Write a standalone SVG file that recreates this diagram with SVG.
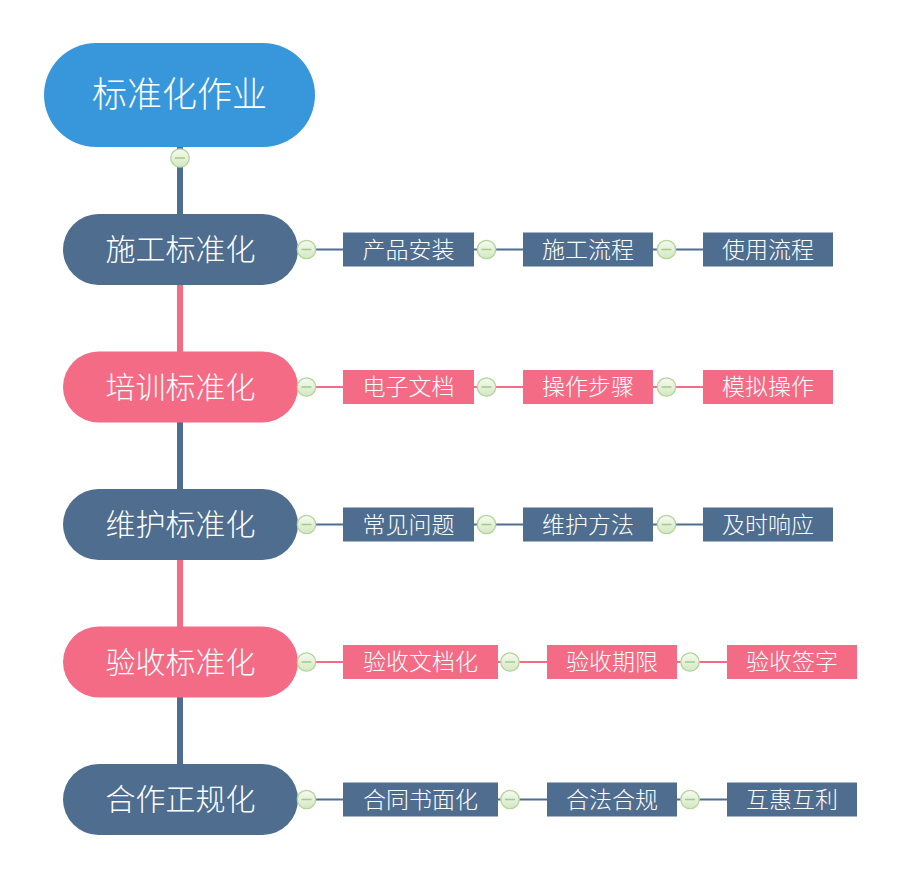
<svg xmlns="http://www.w3.org/2000/svg" width="900" height="878" viewBox="0 0 900 878">
<defs>
<linearGradient id="cg" x1="0" y1="0" x2="0" y2="1">
<stop offset="0" stop-color="#f6faf2"/>
<stop offset="1" stop-color="#d3e8c2"/>
</linearGradient>
<g id="col">
<circle r="9.2" fill="url(#cg)" stroke="#b3d698" stroke-width="1.3"/>
<line x1="-5" y1="0" x2="5" y2="0" stroke="#a3c988" stroke-width="1.5"/>
</g>
</defs>
<style>
.t{fill:#ffffff;font-family:"Noto Sans CJK SC","Noto Sans",sans-serif;text-anchor:middle;font-weight:300}
.t0{font-size:35px}
.t1{font-size:30px}
.t2{font-size:23px}
.blue{fill:#4e6d8f}
.pink{fill:#f36b85}
.lb{stroke:#4e6d8f}
.lp{stroke:#f36b85}
.v{stroke-width:6;fill:none}
.h{stroke-width:2;fill:none}
</style>
<rect width="900" height="878" fill="#ffffff"/>
<g id="connectors">
<line class="v lb" x1="180" y1="145" x2="180" y2="216"/>
<line class="v lp" x1="180" y1="283" x2="180" y2="354"/>
<line class="v lb" x1="180" y1="420" x2="180" y2="491"/>
<line class="v lp" x1="180" y1="558" x2="180" y2="629"/>
<line class="v lb" x1="180" y1="695" x2="180" y2="766"/>
<line class="h lb" x1="298" y1="249.5" x2="343" y2="249.5"/>
<line class="h lb" x1="474" y1="249.5" x2="523" y2="249.5"/>
<line class="h lb" x1="653" y1="249.5" x2="703" y2="249.5"/>
<line class="h lp" x1="298" y1="387" x2="343" y2="387"/>
<line class="h lp" x1="474" y1="387" x2="523" y2="387"/>
<line class="h lp" x1="653" y1="387" x2="703" y2="387"/>
<line class="h lb" x1="298" y1="524.5" x2="343" y2="524.5"/>
<line class="h lb" x1="474" y1="524.5" x2="523" y2="524.5"/>
<line class="h lb" x1="653" y1="524.5" x2="703" y2="524.5"/>
<line class="h lp" x1="298" y1="662" x2="343" y2="662"/>
<line class="h lp" x1="498" y1="662" x2="547" y2="662"/>
<line class="h lp" x1="677" y1="662" x2="727" y2="662"/>
<line class="h lb" x1="298" y1="799.5" x2="343" y2="799.5"/>
<line class="h lb" x1="498" y1="799.5" x2="547" y2="799.5"/>
<line class="h lb" x1="677" y1="799.5" x2="727" y2="799.5"/>
</g>
<g id="root">
<rect x="44" y="43" width="271" height="104" rx="52" fill="#3797da"/>
<text class="t t0" x="179.5" y="107">标准化作业</text>
<use href="#col" x="180" y="158"/>
</g>
<g id="n1">
<rect class="blue" x="63" y="214" width="235" height="71" rx="35.5"/>
<text class="t t1" x="180.5" y="260">施工标准化</text>
<use href="#col" x="306.5" y="249.5"/>
</g>
<g id="n1a"><rect class="blue" x="343" y="232.5" width="131" height="34"/><text class="t t2" x="408.5" y="257.5">产品安装</text><use href="#col" x="486.5" y="249.5"/></g>
<g id="n1b"><rect class="blue" x="523" y="232.5" width="130" height="34"/><text class="t t2" x="588" y="257.5">施工流程</text><use href="#col" x="666.5" y="249.5"/></g>
<g id="n1c"><rect class="blue" x="703" y="232.5" width="130" height="34"/><text class="t t2" x="768" y="257.5">使用流程</text></g>
<g id="n2">
<rect class="pink" x="63" y="351.5" width="235" height="71" rx="35.5"/>
<text class="t t1" x="180.5" y="397.5">培训标准化</text>
<use href="#col" x="306.5" y="387"/>
</g>
<g id="n2a"><rect class="pink" x="343" y="370" width="131" height="34"/><text class="t t2" x="408.5" y="395">电子文档</text><use href="#col" x="486.5" y="387"/></g>
<g id="n2b"><rect class="pink" x="523" y="370" width="130" height="34"/><text class="t t2" x="588" y="395">操作步骤</text><use href="#col" x="666.5" y="387"/></g>
<g id="n2c"><rect class="pink" x="703" y="370" width="130" height="34"/><text class="t t2" x="768" y="395">模拟操作</text></g>
<g id="n3">
<rect class="blue" x="63" y="489" width="235" height="71" rx="35.5"/>
<text class="t t1" x="180.5" y="535">维护标准化</text>
<use href="#col" x="306.5" y="524.5"/>
</g>
<g id="n3a"><rect class="blue" x="343" y="507.5" width="131" height="34"/><text class="t t2" x="408.5" y="532.5">常见问题</text><use href="#col" x="486.5" y="524.5"/></g>
<g id="n3b"><rect class="blue" x="523" y="507.5" width="130" height="34"/><text class="t t2" x="588" y="532.5">维护方法</text><use href="#col" x="666.5" y="524.5"/></g>
<g id="n3c"><rect class="blue" x="703" y="507.5" width="130" height="34"/><text class="t t2" x="768" y="532.5">及时响应</text></g>
<g id="n4">
<rect class="pink" x="63" y="626.5" width="235" height="71" rx="35.5"/>
<text class="t t1" x="180.5" y="672.5">验收标准化</text>
<use href="#col" x="306.5" y="662"/>
</g>
<g id="n4a"><rect class="pink" x="343" y="645" width="155" height="34"/><text class="t t2" x="420.5" y="670">验收文档化</text><use href="#col" x="510" y="662"/></g>
<g id="n4b"><rect class="pink" x="547" y="645" width="130" height="34"/><text class="t t2" x="612" y="670">验收期限</text><use href="#col" x="690" y="662"/></g>
<g id="n4c"><rect class="pink" x="727" y="645" width="130" height="34"/><text class="t t2" x="792" y="670">验收签字</text></g>
<g id="n5">
<rect class="blue" x="63" y="764" width="235" height="71" rx="35.5"/>
<text class="t t1" x="180.5" y="810">合作正规化</text>
<use href="#col" x="306.5" y="799.5"/>
</g>
<g id="n5a"><rect class="blue" x="343" y="782.5" width="155" height="34"/><text class="t t2" x="420.5" y="807.5">合同书面化</text><use href="#col" x="510" y="799.5"/></g>
<g id="n5b"><rect class="blue" x="547" y="782.5" width="130" height="34"/><text class="t t2" x="612" y="807.5">合法合规</text><use href="#col" x="690" y="799.5"/></g>
<g id="n5c"><rect class="blue" x="727" y="782.5" width="130" height="34"/><text class="t t2" x="792" y="807.5">互惠互利</text></g>
</svg>
